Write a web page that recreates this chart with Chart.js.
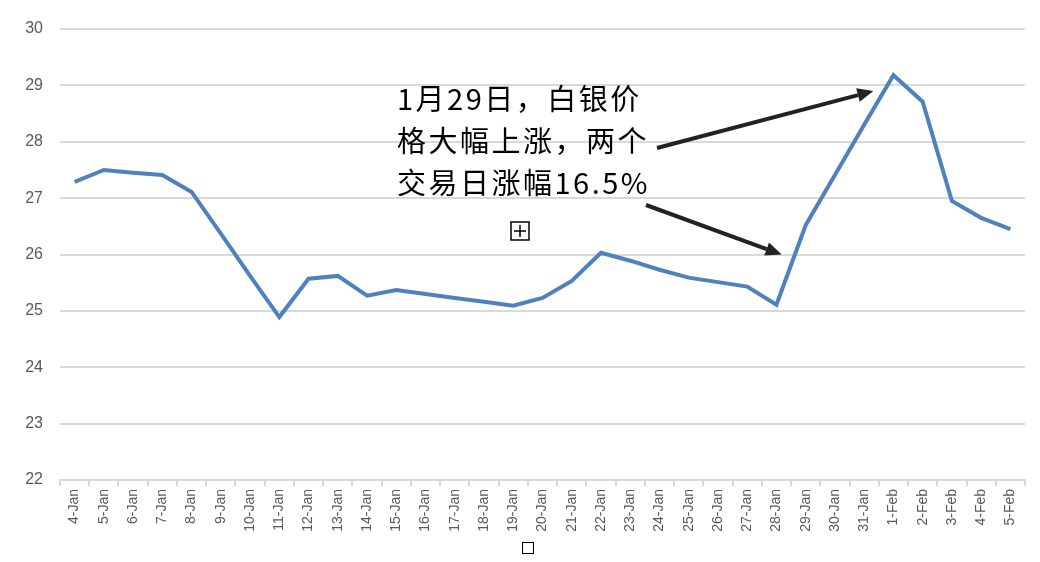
<!DOCTYPE html>
<html>
<head>
<meta charset="utf-8">
<script src="https://cdn.jsdelivr.net/npm/chart.js@4"></script>
<style>
  html, body { margin: 0; padding: 0; background: #fff; }
  #wrap { width: 1040px; height: 562px; position: relative; }
</style>
</head>
<body>
<div id="wrap"><canvas id="chart"></canvas></div>
<script>
// dates on the x axis (weekends included, like the original sheet)
var dates = ['4-Jan','5-Jan','6-Jan','7-Jan','8-Jan','9-Jan','10-Jan','11-Jan','12-Jan','13-Jan',
             '14-Jan','15-Jan','16-Jan','17-Jan','18-Jan','19-Jan','20-Jan','21-Jan','22-Jan','23-Jan',
             '24-Jan','25-Jan','26-Jan','27-Jan','28-Jan','29-Jan','30-Jan','31-Jan','1-Feb','2-Feb',
             '3-Feb','4-Feb','5-Feb'];

// silver price
var silver = [27.29, 27.50, 27.45, 27.41, 27.11, 26.37, 25.62, 24.89, 25.57, 25.62,
              25.27, 25.37, 25.30, 25.23, 25.16, 25.09, 25.23, 25.53, 26.03, 25.89,
              25.73, 25.59, 25.51, 25.43, 25.11, 26.52, 27.41, 28.30, 29.18, 28.71,
              26.95, 26.65, 26.45];

var yMin = 22;
var yMax = 30;

var noteLines = ['1月29日，白银价', '格大幅上涨，两个', '交易日涨幅16.5%'];

// draws the callout text, the two arrows and the little boxes
var notePlugin = {
    id: 'note',
    afterDraw: function(chart) {
        var ctx = chart.ctx;
        var x = chart.scales.x, y = chart.scales.y;
        ctx.save();

        ctx.fillStyle = '#000';
        ctx.font = '29px "Noto Sans CJK SC"';
        ctx.letterSpacing = '2.5px';
        ctx.textBaseline = 'alphabetic';
        for (var i = 0; i < noteLines.length; i++) {
            ctx.fillText(noteLines[i], 397, 110 + i * 42);
        }
        ctx.letterSpacing = '0px';

        // arrows point at the jump and the peak
        function arrow(x0, y0, x1, y1) {
            var a = Math.atan2(y1 - y0, x1 - x0);
            var len = 16, wid = 7;
            ctx.strokeStyle = '#222';
            ctx.fillStyle = '#222';
            ctx.lineWidth = 4;
            ctx.beginPath();
            ctx.moveTo(x0, y0);
            ctx.lineTo(x1 - Math.cos(a) * len, y1 - Math.sin(a) * len);
            ctx.stroke();
            ctx.beginPath();
            ctx.moveTo(x1, y1);
            ctx.lineTo(x1 - Math.cos(a) * len - Math.sin(a) * wid, y1 - Math.sin(a) * len + Math.cos(a) * wid);
            ctx.lineTo(x1 - Math.cos(a) * len + Math.sin(a) * wid, y1 - Math.sin(a) * len - Math.cos(a) * wid);
            ctx.closePath();
            ctx.fill();
        }
        arrow(657, 148, x.getPixelForValue(28) - 20, y.getPixelForValue(28.9));
        arrow(646, 205, x.getPixelForValue(25) - 24, y.getPixelForValue(26.0));

        // stray boxes left over in the original picture
        ctx.strokeStyle = '#000';
        ctx.lineWidth = 1.5;
        ctx.strokeRect(511, 222, 18, 18);
        ctx.beginPath();
        ctx.moveTo(520, 225); ctx.lineTo(520, 237);
        ctx.moveTo(514, 231); ctx.lineTo(526, 231);
        ctx.stroke();
        ctx.lineWidth = 1;
        ctx.strokeRect(522.5, 542.5, 11, 11);

        ctx.restore();
    }
};

var ctx = document.getElementById('chart').getContext('2d');
var chart = new Chart(ctx, {
    type: 'line',
    data: {
        labels: dates,
        datasets: [{
            label: '白银',
            data: silver,
            borderColor: '#4f81bd',
            backgroundColor: '#4f81bd',
            borderWidth: 4,
            pointRadius: 0,
            tension: 0
        }]
    },
    options: {
        responsive: true,
        maintainAspectRatio: false,
        animation: false,
        layout: { padding: { top: 29, right: 15, left: 0, bottom: 0 } },
        plugins: {
            legend: { display: false },
            tooltip: { enabled: false }
        },
        scales: {
            x: {
                offset: true,
                grid: {
                    offset: true,
                    drawOnChartArea: false,
                    drawTicks: true,
                    tickLength: 6,
                    color: '#d9d9d9',
                    lineWidth: 2
                },
                border: { color: '#d9d9d9', width: 2 },
                ticks: {
                    autoSkip: false,
                    minRotation: 90,
                    maxRotation: 90,
                    padding: 3,
                    color: '#595959',
                    font: { family: 'Liberation Sans', size: 14 }
                },
                afterFit: function(axis) { axis.height = 82; }
            },
            y: {
                min: yMin,
                max: yMax,
                grid: {
                    color: '#d9d9d9',
                    lineWidth: 2,
                    drawTicks: false
                },
                border: { display: false },
                ticks: {
                    stepSize: 1,
                    padding: 17,
                    color: '#595959',
                    font: { family: 'Liberation Sans', size: 16 }
                },
                afterFit: function(axis) { axis.width = 60; }
            }
        }
    },
    plugins: [notePlugin]
});
</script>
</body>
</html>
